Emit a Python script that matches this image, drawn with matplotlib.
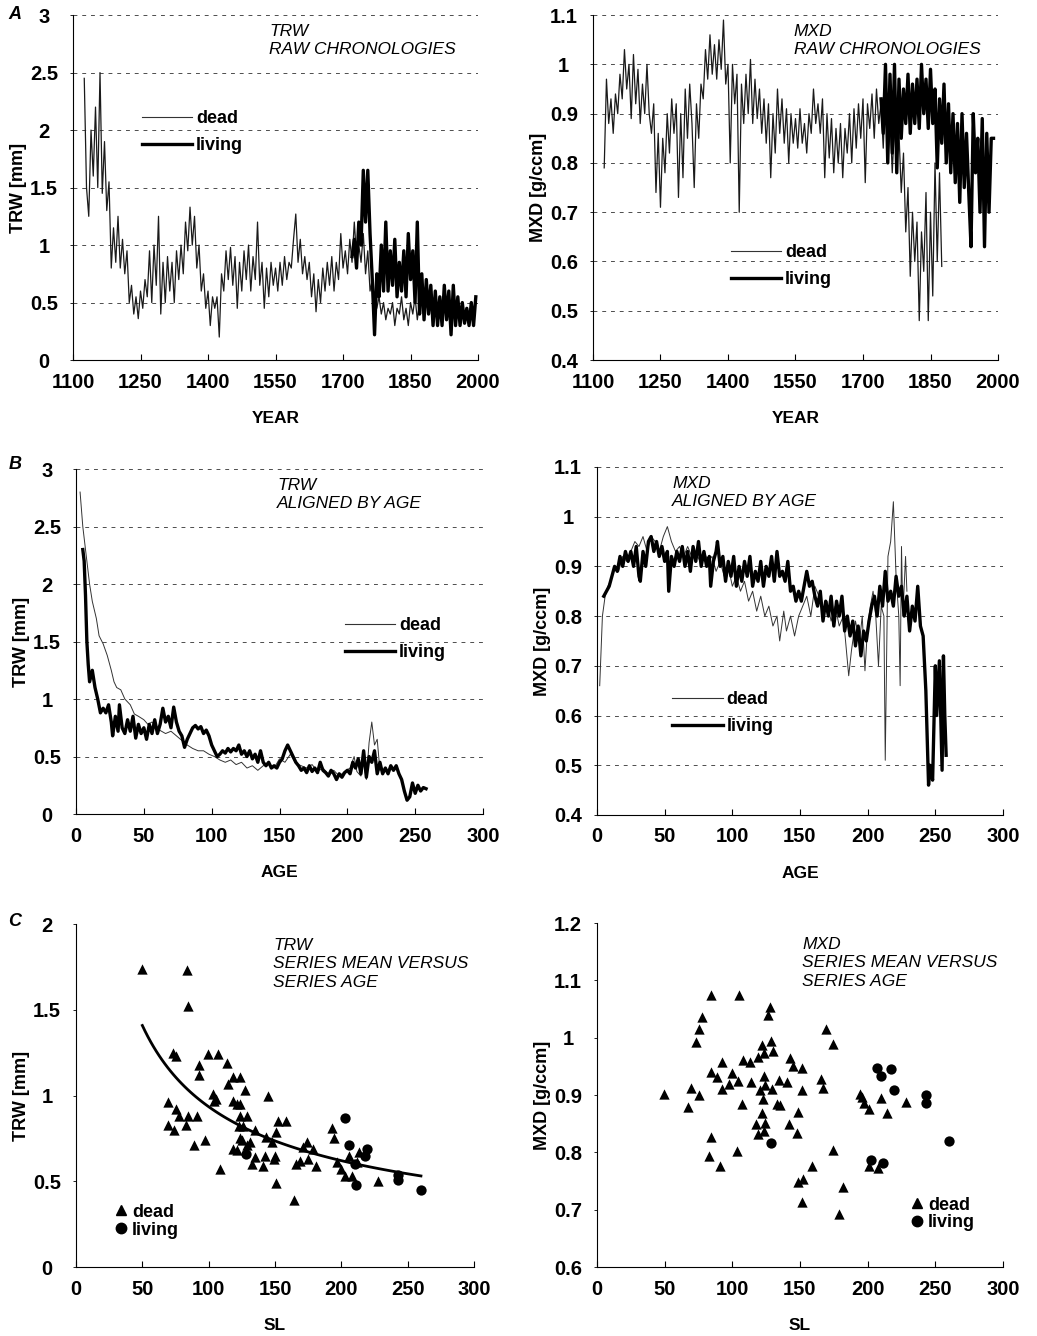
import numpy as np
import matplotlib.pyplot as plt
from matplotlib.lines import Line2D

plt.rcParams['font.family'] = ['Liberation Sans', 'DejaVu Sans']

# A: raw chronologies, values every 5 years
trw_dead_start = 1125
trw_dead = [2.45, 1.5, 1.25, 2.0, 1.6, 2.2, 1.5, 2.5, 1.45, 1.9, 1.3, 1.55, 0.8, 1.15, 0.85, 1.25,
            0.8, 1.05, 0.75, 0.95, 0.5, 0.65, 0.4, 0.55, 0.36, 0.6, 0.45, 0.7, 0.55, 0.95, 0.5, 1.0,
            0.65, 1.25, 0.4, 0.85, 0.5, 0.9, 0.6, 0.85, 0.5, 0.95, 0.7, 1.0, 0.75, 1.2, 0.95, 1.33,
            1.0, 1.25, 0.8, 1.0, 0.6, 0.75, 0.45, 0.6, 0.3, 0.55, 0.45, 0.55, 0.2, 0.75, 0.6, 0.95,
            0.7, 0.98, 0.65, 0.9, 0.45, 0.85, 0.6, 0.95, 0.7, 1.0, 0.6, 0.9, 0.7, 1.2, 0.65, 0.85,
            0.45, 0.8, 0.55, 0.85, 0.65, 0.8, 0.6, 0.85, 0.65, 0.9, 0.7, 0.85, 0.8, 1.05, 1.27, 0.85,
            1.05, 0.75, 0.9, 0.7, 0.85, 0.55, 0.75, 0.42, 0.7, 0.5, 0.8, 0.6, 0.85, 0.65, 0.9, 0.6,
            0.85, 0.7, 1.1, 0.8, 0.95, 0.75, 1.05, 0.85, 1.2, 0.9, 1.0, 0.85, 1.1, 0.75, 0.95, 0.6,
            0.7, 0.5, 0.45, 0.55, 0.4, 0.5, 0.35, 0.45, 0.4, 0.5, 0.3, 0.45, 0.4, 0.55, 0.35, 0.45,
            0.3, 0.5, 0.4, 0.55, 0.35, 0.5]
trw_live_start = 1720
trw_live = [0.9, 1.05, 0.8, 1.2, 1.0, 1.65, 1.2, 1.65, 1.1, 0.7, 0.22, 0.75, 0.55, 1.0, 0.6, 1.2,
            0.6, 0.95, 0.65, 1.05, 0.55, 0.85, 0.6, 0.95, 0.55, 1.1, 0.7, 0.95, 0.5, 1.2, 0.4, 0.75,
            0.35, 0.7, 0.4, 0.65, 0.3, 0.6, 0.3, 0.55, 0.3, 0.65, 0.35, 0.6, 0.22, 0.65, 0.3, 0.55,
            0.3, 0.5, 0.32, 0.45, 0.3, 0.5, 0.3, 0.55]

mxd_dead_start = 1125
mxd_dead = [0.79, 0.97, 0.88, 0.93, 0.86, 0.94, 0.9, 0.98, 0.93, 1.03, 0.95, 1.0, 0.89, 1.02, 0.92, 0.99,
            0.88, 0.96, 0.9, 1.0, 0.9, 0.86, 0.92, 0.74, 0.86, 0.71, 0.85, 0.78, 0.9, 0.82, 0.93, 0.86,
            0.92, 0.73, 0.9, 0.77, 0.95, 0.85, 0.96, 0.88, 0.75, 0.92, 0.85, 0.96, 0.93, 1.03, 0.97, 1.06,
            0.98, 1.04, 0.97, 1.05, 0.99, 1.09, 0.96, 1.0, 0.8, 1.0, 0.92, 0.98, 0.7, 0.96, 0.88, 0.98,
            0.9, 1.01, 0.88, 0.97, 0.89, 0.95, 0.86, 0.93, 0.84, 0.92, 0.77, 0.9, 0.82, 0.95, 0.86, 0.93,
            0.84, 0.91, 0.8, 0.9, 0.84, 0.89, 0.83, 0.91, 0.84, 0.88, 0.82, 0.9, 0.86, 0.95, 0.88, 0.92,
            0.86, 0.93, 0.77, 0.9, 0.81, 0.89, 0.78, 0.87, 0.8, 0.88, 0.77, 0.87, 0.82, 0.9, 0.8, 0.91,
            0.83, 0.92, 0.85, 0.93, 0.76, 0.92, 0.87, 0.94, 0.85, 0.95, 0.88, 0.92, 0.83, 0.95, 0.8, 0.9,
            0.78, 0.88, 0.8, 0.86, 0.74, 0.82, 0.66, 0.75, 0.57, 0.7, 0.6, 0.68, 0.48, 0.66, 0.58, 0.74,
            0.48, 0.7, 0.53, 0.8, 0.6, 0.78, 0.59]
mxd_live_start = 1740
mxd_live = [0.93, 0.86, 1.0, 0.8, 0.98, 0.82, 1.0, 0.78, 0.97, 0.85, 0.95, 0.88, 0.98, 0.86, 0.96, 0.88,
            0.97, 0.87, 1.0, 0.9, 0.97, 0.87, 0.99, 0.88, 0.95, 0.79, 0.93, 0.84, 0.96, 0.8, 0.92, 0.78,
            0.9, 0.76, 0.88, 0.72, 0.9, 0.75, 0.86, 0.74, 0.63, 0.9, 0.78, 0.85, 0.7, 0.89, 0.63, 0.86,
            0.7, 0.85, 0.85]

# B: aligned by age
trw_dead_age = [3, 5, 7, 10, 12, 15, 17, 20, 23, 26, 28, 30, 33, 36, 40, 43, 46, 50, 53, 56, 60, 63,
                66, 70, 74, 78, 82, 86, 90, 94, 98, 102, 106, 110, 114, 118, 122, 126, 130, 134, 138,
                142, 146, 150, 154, 158, 162, 166, 170, 174, 178, 182, 186, 190, 194, 198, 202, 205,
                207, 210, 212, 214, 216, 218, 220, 222, 224]
trw_dead_curve = [2.8, 2.5, 2.3, 2.0, 1.85, 1.7, 1.55, 1.48, 1.38, 1.25, 1.15, 1.1, 1.08, 1.0, 0.95,
                  0.87, 0.85, 0.82, 0.78, 0.8, 0.74, 0.72, 0.7, 0.72, 0.68, 0.64, 0.6, 0.57, 0.55, 0.55,
                  0.52, 0.5, 0.47, 0.45, 0.47, 0.43, 0.45, 0.4, 0.42, 0.38, 0.42, 0.44, 0.4, 0.48, 0.45,
                  0.52, 0.44, 0.42, 0.4, 0.43, 0.37, 0.4, 0.35, 0.38, 0.33, 0.37, 0.4, 0.5, 0.37, 0.33,
                  0.45, 0.3, 0.62, 0.8, 0.6, 0.65, 0.38]
trw_live_age = [5, 6, 7, 8, 9, 10, 12, 14, 16, 18, 20, 22, 24, 26, 27, 29, 31, 32, 34, 36, 38, 40, 42,
                44, 46, 48, 50, 52, 54, 56, 58, 60, 62, 64, 66, 68, 70, 72, 74, 76, 78, 80, 82, 84, 86,
                88, 90, 92, 94, 96, 98, 100, 102, 104, 106, 108, 110, 112, 114, 116, 118, 120, 122, 124,
                126, 128, 130, 132, 134, 136, 138, 140, 142, 144, 146, 148, 150, 152, 154, 156, 158, 160,
                162, 164, 166, 168, 170, 172, 174, 176, 178, 180, 182, 184, 186, 188, 190, 192, 194, 196,
                198, 200, 202, 204, 206, 208, 210, 212, 214, 216, 218, 220, 222, 224, 226, 228, 230, 232,
                234, 236, 238, 240, 242, 244, 246, 248, 250, 252, 254, 256, 258]
trw_live_curve = [2.3, 2.2, 1.9, 1.5, 1.3, 1.15, 1.25, 1.1, 1.0, 0.88, 0.92, 0.88, 0.95, 0.8, 0.68, 0.85,
                  0.72, 0.95, 0.75, 0.7, 0.82, 0.72, 0.85, 0.66, 0.78, 0.7, 0.75, 0.65, 0.78, 0.7, 0.82,
                  0.7, 0.78, 0.92, 0.8, 0.85, 0.75, 0.93, 0.8, 0.72, 0.68, 0.58, 0.65, 0.7, 0.75, 0.77,
                  0.74, 0.76, 0.7, 0.73, 0.68, 0.6, 0.55, 0.5, 0.52, 0.55, 0.53, 0.57, 0.54, 0.57, 0.55,
                  0.6, 0.52, 0.55, 0.5, 0.55, 0.48, 0.52, 0.45, 0.55, 0.45, 0.42, 0.45, 0.4, 0.42, 0.4,
                  0.45, 0.48, 0.55, 0.6, 0.55, 0.5, 0.45, 0.42, 0.38, 0.4, 0.36, 0.42, 0.37, 0.4, 0.36,
                  0.45, 0.38, 0.36, 0.33, 0.38, 0.35, 0.3, 0.35, 0.32, 0.36, 0.38, 0.35, 0.45, 0.4, 0.48,
                  0.35, 0.55, 0.32, 0.5, 0.45, 0.55, 0.35, 0.45, 0.35, 0.4, 0.35, 0.42, 0.38, 0.42, 0.35,
                  0.3, 0.2, 0.12, 0.15, 0.27, 0.18, 0.25, 0.2, 0.23, 0.22]

mxd_dead_age = [2, 4, 6, 8, 10, 13, 16, 19, 22, 25, 28, 31, 34, 37, 40, 43, 46, 49, 52, 55, 58, 61, 64,
                67, 70, 73, 76, 79, 82, 85, 88, 91, 94, 97, 100, 103, 106, 109, 112, 115, 118, 121, 124,
                127, 130, 133, 135, 138, 140, 143, 146, 149, 152, 155, 158, 161, 164, 167, 170, 173, 176,
                179, 182, 184, 186, 188, 191, 194, 196, 198, 200, 202, 204, 206, 208, 210, 212, 213, 215,
                217, 219, 221, 223, 224, 225, 226, 228, 229]
mxd_dead_curve = [0.66, 0.8, 0.84, 0.86, 0.87, 0.9, 0.89, 0.92, 0.91, 0.93, 0.95, 0.94, 0.96, 0.93, 0.96,
                  0.95, 0.93, 0.96, 0.98, 0.95, 0.93, 0.94, 0.92, 0.94, 0.92, 0.93, 0.91, 0.93, 0.91, 0.92,
                  0.89, 0.91, 0.88, 0.9, 0.86, 0.88, 0.85, 0.87, 0.83, 0.85, 0.81, 0.84, 0.8, 0.82, 0.78,
                  0.8, 0.75, 0.81, 0.77, 0.8, 0.76, 0.8, 0.82, 0.84, 0.8, 0.86, 0.84, 0.81, 0.83, 0.79,
                  0.82, 0.78, 0.8, 0.74, 0.68, 0.73, 0.79, 0.75, 0.8, 0.69, 0.78, 0.82, 0.85, 0.8, 0.7,
                  0.82, 0.8, 0.51, 0.92, 0.95, 1.03, 0.88, 0.8, 0.66, 0.94, 0.8, 0.92, 0.85]
mxd_live_age = [5, 7, 9, 11, 13, 15, 17, 19, 21, 23, 25, 27, 29, 31, 32, 34, 36, 38, 40, 42, 44, 46, 48,
                50, 52, 53, 55, 57, 59, 61, 63, 65, 67, 69, 71, 73, 75, 77, 79, 81, 83, 84, 86, 88, 89,
                91, 93, 95, 97, 99, 101, 103, 105, 107, 109, 111, 113, 115, 117, 119, 121, 123, 125, 127,
                129, 131, 133, 135, 137, 139, 141, 143, 145, 147, 149, 151, 153, 155, 157, 159, 161, 163,
                165, 167, 169, 171, 173, 175, 177, 179, 181, 183, 185, 187, 189, 191, 193, 195, 197, 199,
                201, 203, 205, 207, 209, 211, 213, 215, 217, 219, 221, 223, 225, 227, 229, 231, 233, 235,
                237, 239, 241, 243, 245, 246, 248, 250, 251, 253, 255, 256, 257, 258]
mxd_live_curve = [0.84, 0.85, 0.86, 0.88, 0.9, 0.89, 0.92, 0.9, 0.93, 0.91, 0.93, 0.9, 0.94, 0.88, 0.87,
                  0.93, 0.9, 0.95, 0.96, 0.93, 0.95, 0.92, 0.94, 0.91, 0.93, 0.85, 0.92, 0.9, 0.93, 0.91,
                  0.94, 0.9, 0.93, 0.89, 0.94, 0.91, 0.95, 0.9, 0.93, 0.9, 0.92, 0.86, 0.91, 0.93, 0.95,
                  0.9, 0.92, 0.87, 0.91, 0.88, 0.92, 0.86, 0.9, 0.87, 0.91, 0.88, 0.92, 0.86, 0.89, 0.87,
                  0.91, 0.86, 0.9, 0.88, 0.92, 0.87, 0.93, 0.88, 0.89, 0.87, 0.91, 0.85, 0.86, 0.83, 0.85,
                  0.83, 0.86, 0.89, 0.86, 0.87, 0.84, 0.82, 0.85, 0.79, 0.83, 0.8, 0.84, 0.78, 0.83, 0.8,
                  0.84, 0.77, 0.8, 0.76, 0.79, 0.74, 0.78, 0.72, 0.77, 0.75, 0.79, 0.82, 0.84, 0.8, 0.86,
                  0.82, 0.89, 0.83, 0.85, 0.82, 0.88, 0.84, 0.86, 0.8, 0.84, 0.77, 0.82, 0.79, 0.86, 0.78,
                  0.76, 0.65, 0.46, 0.5, 0.47, 0.7, 0.6, 0.71, 0.49, 0.72, 0.6, 0.52]

# C: series mean versus series length
trw_dead_sl = [49.5, 84, 84.7, 73, 75, 69, 69.5, 75, 74, 77.6, 82.7, 84.7, 91.5, 89, 92.7, 92.7, 99.5,
               107, 103, 104, 105.5, 97, 108.6, 114, 114.3, 118, 123.6, 118.6, 121, 123.6, 127.4, 123.6,
               129, 123, 126, 118.6, 121.6, 123.6, 125, 128.7, 131, 135, 135, 133, 141, 143, 142.5,
               147.5, 149, 150, 150.8, 152, 145, 158, 150.8, 164.6, 166, 169, 170.8, 174, 175, 179,
               181, 192.7, 194.8, 196.5, 200, 203, 206, 208, 211.6, 213, 228]
trw_dead_mean = [1.74, 1.73, 1.52, 1.25, 1.23, 0.96, 0.83, 0.92, 0.80, 0.88, 0.83, 0.88, 0.88, 0.71,
                 1.18, 1.12, 1.24, 1.24, 1.01, 0.97, 0.98, 0.74, 0.57, 1.19, 1.07, 1.11, 1.11, 0.97,
                 0.95, 0.95, 1.03, 0.88, 0.88, 0.82, 0.82, 0.69, 0.68, 0.75, 0.74, 0.71, 0.73, 0.80,
                 0.64, 0.60, 0.59, 0.76, 0.65, 0.73, 0.63, 0.65, 0.79, 0.85, 1.0, 0.85, 0.49, 0.39,
                 0.60, 0.62, 0.70, 0.73, 0.63, 0.69, 0.59, 0.81, 0.75, 0.61, 0.57, 0.53, 0.65, 0.53,
                 0.61, 0.67, 0.50]
trw_live_sl = [203, 206, 128, 211, 210.4, 219, 218, 243, 243, 260]
trw_live_mean = [0.87, 0.71, 0.66, 0.48, 0.60, 0.69, 0.65, 0.535, 0.51, 0.45]
# points
trw_fit_sl = [50, 60, 75, 100, 125, 150, 175, 200, 225, 260]
trw_fit_val = [1.43, 1.27, 1.1, 0.95, 0.8, 0.72, 0.66, 0.62, 0.58, 0.55]

mxd_dead_sl = [49.2, 84.3, 105.2, 77.5, 75.5, 73.3, 127.9, 126.6, 169, 174.6, 121.7, 128.6, 130.3, 123.7,
               119, 108.2, 113, 92.7, 142.6, 145, 151.2, 84, 88.5, 99.6, 104.5, 97.9, 92.2, 113.8,
               123.7, 124.2, 120.5, 129.1, 134.8, 140.2, 151.2, 165.5, 166.7, 69.6, 67.6, 75.5, 107,
               122.5, 132.8, 135.2, 121.7, 148.8, 142.1, 117.3, 124.2, 118.7, 123.7, 147.5, 84.3, 82.4,
               91, 103.8, 174.6, 158.6, 148.8, 152, 151.2, 181.5, 179, 194.3, 195.5, 197.5, 200.9,
               210.2, 214.4, 228.2, 200.9, 207.8]
mxd_dead_mean = [0.901, 1.074, 1.075, 1.037, 1.015, 0.993, 1.054, 1.040, 1.016, 0.989, 0.987, 0.995,
                 0.977, 0.974, 0.967, 0.962, 0.957, 0.957, 0.964, 0.951, 0.947, 0.940, 0.932, 0.939,
                 0.925, 0.919, 0.910, 0.922, 0.933, 0.917, 0.909, 0.911, 0.927, 0.923, 0.908, 0.928,
                 0.912, 0.912, 0.879, 0.900, 0.884, 0.893, 0.884, 0.883, 0.868, 0.870, 0.849, 0.849,
                 0.852, 0.832, 0.838, 0.833, 0.826, 0.793, 0.777, 0.803, 0.804, 0.777, 0.749, 0.753,
                 0.714, 0.740, 0.692, 0.901, 0.897, 0.887, 0.876, 0.894, 0.868, 0.888, 0.777, 0.772]
mxd_live_sl = [206.6, 210.2, 217.6, 219.6, 128.4, 202.4, 211.5, 243.4, 243.4, 260.2]
mxd_live_mean = [0.947, 0.934, 0.945, 0.909, 0.817, 0.786, 0.782, 0.900, 0.886, 0.819]


def make_axis(rect, xlim, xticks, ylim, yticks, xlabel, ylabel, grid=True):
    ax = fig.add_axes(rect)
    ax.set_xlim(xlim)
    ax.set_ylim(ylim)
    ax.spines['top'].set_visible(False)
    ax.spines['right'].set_visible(False)
    ax.spines['left'].set_linewidth(0.8)
    ax.spines['bottom'].set_linewidth(0.8)
    ax.set_xticks(xticks)
    ax.set_xticklabels(['%g' % t for t in xticks])
    ax.set_yticks(yticks)
    ax.set_yticklabels(['%g' % round(t, 2) for t in yticks], ha='center')
    ax.tick_params(axis='x', direction='in', length=4, width=0.8, labelsize=14.5, pad=9)
    ax.tick_params(axis='y', direction='out', length=2, width=0.6, labelsize=14.5, pad=19)
    for lab in ax.get_xticklabels() + ax.get_yticklabels():
        lab.set_fontweight('bold')
    if grid:
        for y in yticks[1:]:
            ax.axhline(y, color='0.3', lw=0.7, ls=(0, (4, 5)), zorder=0)
    ax.set_xlabel(xlabel, fontsize=12.5, fontweight='bold', labelpad=14)
    ax.set_ylabel(ylabel, fontsize=13, fontweight='bold', labelpad=2)
    return ax


def add_title(ax, x, y, text):
    ax.text(x, y, text, transform=ax.transAxes, fontsize=12.5, style='italic',
            va='top', ha='left', linespacing=1.3)


def line_legend(ax, x, y, thin=0.8, thick=2.4):
    handles = [Line2D([], [], color='0.2', lw=thin), Line2D([], [], color='black', lw=thick)]
    leg = ax.legend(handles, ['dead', 'living'], loc='upper left', bbox_to_anchor=(x, y),
                    frameon=False, fontsize=13, handlelength=2.8, handletextpad=0.2,
                    labelspacing=0.55, borderaxespad=0, borderpad=0)
    for t in leg.get_texts():
        t.set_fontweight('bold')


def marker_legend(ax, x, y):
    handles = [Line2D([], [], ls='', marker='^', ms=7.5, color='black'),
               Line2D([], [], ls='', marker='o', ms=7.5, color='black')]
    leg = ax.legend(handles, ['dead', 'living'], loc='upper left', bbox_to_anchor=(x, y),
                    frameon=False, fontsize=13, handlelength=0.6, handletextpad=0.3,
                    labelspacing=0.05, borderaxespad=0, borderpad=0)
    for t in leg.get_texts():
        t.set_fontweight('bold')


fig = plt.figure(figsize=(10.37, 13.36), dpi=100)

year_ticks = [1100, 1250, 1400, 1550, 1700, 1850, 2000]
age_ticks = [0, 50, 100, 150, 200, 250, 300]
trw_ticks = [0, 0.5, 1, 1.5, 2, 2.5, 3]
mxd_ticks = list(np.arange(0.4, 1.15, 0.1))

# --- row A ---
ax = make_axis([0.0704, 0.7305, 0.3906, 0.2582], (1100, 2000), year_ticks, (0, 3), trw_ticks,
               'YEAR', 'TRW [mm]')
yr = np.arange(trw_dead_start, trw_dead_start + 5 * len(trw_dead), 5)
ax.plot(yr, trw_dead, color='0.1', lw=0.9)
yr = np.arange(trw_live_start, trw_live_start + 5 * len(trw_live), 5)
ax.plot(yr, trw_live, color='black', lw=2.4)
add_title(ax, 0.484, 0.975, 'TRW\nRAW CHRONOLOGIES')
line_legend(ax, 0.17, 0.725)

ax = make_axis([0.5718, 0.7305, 0.3906, 0.2582], (1100, 2000), year_ticks, (0.4, 1.1), mxd_ticks,
               'YEAR', 'MXD [g/ccm]')
yr = np.arange(mxd_dead_start, mxd_dead_start + 5 * len(mxd_dead), 5)
ax.plot(yr, mxd_dead, color='0.1', lw=0.9)
yr = np.arange(mxd_live_start, mxd_live_start + 5 * len(mxd_live), 5)
ax.plot(yr, mxd_live, color='black', lw=2.4)
add_title(ax, 0.496, 0.975, 'MXD\nRAW CHRONOLOGIES')
line_legend(ax, 0.34, 0.335)

# --- row B ---
ax = make_axis([0.0733, 0.3907, 0.3925, 0.2582], (0, 300), age_ticks, (0, 3), trw_ticks,
               'AGE', 'TRW [mm]')
ax.plot(trw_dead_age, trw_dead_curve, color='0.2', lw=0.7)
ax.plot(trw_live_age, trw_live_curve, color='black', lw=2.4)
add_title(ax, 0.494, 0.975, 'TRW\nALIGNED BY AGE')
line_legend(ax, 0.66, 0.57)

ax = make_axis([0.5757, 0.39, 0.3915, 0.2605], (0, 300), age_ticks, (0.4, 1.1), mxd_ticks,
               'AGE', 'MXD [g/ccm]')
ax.plot(mxd_dead_age, mxd_dead_curve, color='0.2', lw=0.7)
ax.plot(mxd_live_age, mxd_live_curve, color='black', lw=2.4)
add_title(ax, 0.185, 0.975, 'MXD\nALIGNED BY AGE')
line_legend(ax, 0.185, 0.355)

# --- row C ---
ax = make_axis([0.0733, 0.0516, 0.3838, 0.2567], (0, 300), age_ticks, (0, 2), [0, 0.5, 1, 1.5, 2],
               'SL', 'TRW [mm]', grid=False)
ax.scatter(trw_dead_sl, trw_dead_mean, marker='^', s=55, color='black', lw=0)
ax.scatter(trw_live_sl, trw_live_mean, marker='o', s=55, color='black', lw=0)
b, a = np.polyfit(np.log(trw_fit_sl), np.log(trw_fit_val), 1)
sl = np.linspace(50, 260, 100)
ax.plot(sl, np.exp(a) * sl ** b, color='black', lw=2)
add_title(ax, 0.495, 0.96, 'TRW\nSERIES MEAN VERSUS\nSERIES AGE')
marker_legend(ax, 0.1, 0.185)

ax = make_axis([0.5757, 0.0516, 0.3915, 0.2575], (0, 300), age_ticks, (0.6, 1.2),
               [0.6, 0.7, 0.8, 0.9, 1.0, 1.1, 1.2], 'SL', 'MXD [g/ccm]', grid=False)
ax.scatter(mxd_dead_sl, mxd_dead_mean, marker='^', s=55, color='black', lw=0)
ax.scatter(mxd_live_sl, mxd_live_mean, marker='o', s=55, color='black', lw=0)
add_title(ax, 0.505, 0.96, 'MXD\nSERIES MEAN VERSUS\nSERIES AGE')
marker_legend(ax, 0.775, 0.205)

# panel letters
for lab, yy in [('A', 0.989), ('B', 0.652), ('C', 0.31)]:
    fig.text(0.008, yy, lab, fontsize=13, style='italic', fontweight='bold', va='center')

plt.savefig('out.png', dpi=100)
